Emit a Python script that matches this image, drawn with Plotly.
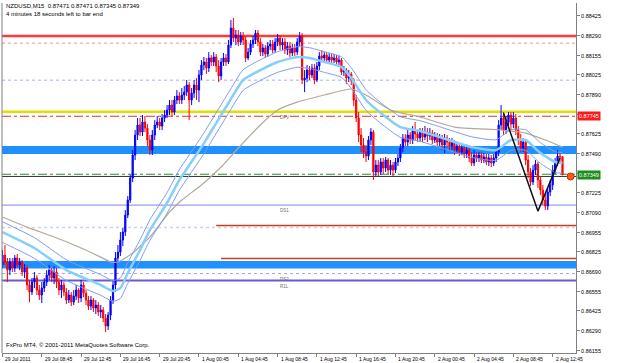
import plotly.graph_objects as go

# ---------------- data (prices in points, 1 point = 0.00001) ----------------
bar_open = [86736,86804,86757,86702,86757,86716,86784,86736,86757,86689,
86716,86601,86553,86621,86648,86567,86533,86580,86621,86668,
86702,86648,86689,86621,86567,86601,86553,86499,86533,86485,
86526,86567,86513,86601,86546,86499,86458,86499,86445,86465,
86418,86431,86377,86323,86397,86499,86601,86784,86824,86906,
86960,87075,87177,87326,87482,87618,87686,87638,87706,87665,
87584,87516,87618,87686,87706,87679,87733,87753,87787,87821,
87774,87855,87882,87855,87889,87909,87957,87855,87902,87957,
87923,88025,88092,88113,88072,88140,88113,88147,88086,88018,
88113,88140,88113,88228,88343,88275,88296,88248,88289,88262,
88140,88180,88235,88262,88309,88248,88180,88208,88167,88221,
88235,88194,88248,88275,88228,88248,88194,88221,88174,88208,
88180,88248,88289,87991,88004,88058,88025,88072,87991,88086,
88153,88140,88160,88126,88147,88126,88140,88113,88126,88045,
88058,88004,88031,87991,87855,87733,87618,87550,87502,87475,
87584,87638,87367,87414,87367,87435,87394,87448,87380,87414,
87380,87435,87462,87530,87597,87570,87618,87584,87652,87625,
87597,87638,87604,87638,87611,87631,87584,87611,87570,87597,
87550,87597,87570,87543,87570,87516,87543,87502,87530,87489,
87516,87462,87428,87482,87462,87482,87448,87469,87435,87462,
87428,87462,87502,87686,87733,87652,87706,87753,87692,87733,
87652,87584,87530,87570,87448,87367,87299,87380,87421,87313,
87245,87177,87136,87231,87279,87380,87435,87475,87471]
bar_high = [86838,86872,86784,86784,86784,86804,86811,86784,86770,86743,
86736,86635,86648,86689,86668,86601,86621,86648,86702,86736,
86716,86729,86716,86648,86635,86621,86580,86567,86553,86567,
86601,86580,86635,86621,86567,86526,86526,86513,86499,86485,
86465,86451,86404,86418,86526,86635,86824,86872,86960,86987,
87109,87204,87347,87516,87652,87733,87733,87753,87747,87692,
87618,87652,87719,87747,87733,87760,87787,87821,87855,87855,
87882,87923,87909,87936,87950,87991,87977,87936,87991,88004,
88058,88126,88147,88140,88180,88160,88180,88167,88126,88140,
88174,88167,88262,88397,88411,88330,88330,88316,88316,88289,
88208,88262,88289,88330,88330,88275,88235,88228,88248,88262,
88262,88275,88303,88296,88275,88275,88248,88248,88235,88235,
88275,88316,88309,88058,88092,88086,88099,88099,88113,88180,
88194,88180,88180,88174,88167,88167,88160,88153,88140,88086,
88072,88058,88045,88004,87889,87774,87665,87597,87550,87611,
87665,87652,87448,87448,87462,87462,87469,87462,87448,87435,
87462,87489,87557,87625,87625,87652,87638,87679,87706,87652,
87665,87665,87679,87665,87665,87652,87638,87631,87625,87618,
87625,87618,87597,87597,87584,87570,87563,87557,87550,87543,
87536,87502,87516,87502,87502,87502,87496,87489,87489,87482,
87489,87530,87719,87821,87774,87747,87774,87774,87774,87760,
87679,87625,87597,87584,87482,87394,87414,87448,87435,87340,
87279,87218,87258,87313,87414,87462,87516,87502,87471]
bar_low = [86716,86736,86621,86668,86689,86689,86716,86702,86662,86648,
86567,86485,86533,86580,86533,86499,86479,86553,86594,86635,
86621,86607,86580,86533,86513,86526,86472,86479,86458,86465,
86499,86479,86485,86519,86465,86431,86431,86418,86404,86391,
86377,86350,86282,86296,86363,86472,86553,86757,86797,86865,
86933,87055,87157,87299,87448,87584,87611,87611,87638,87543,
87482,87482,87584,87665,87652,87652,87706,87733,87753,87747,
87753,87828,87828,87828,87855,87882,87719,87821,87869,87855,
87841,87991,88058,88031,88045,88086,88086,88045,87977,87991,
88086,88086,88099,88208,88248,88228,88221,88228,88228,88113,
88126,88160,88208,88235,88221,88153,88153,88140,88147,88194,
88174,88174,88221,88194,88194,88167,88160,88147,88153,88153,
88160,88221,87963,87909,87977,87991,88004,87963,87977,88058,
88113,88113,88106,88106,88099,88106,88092,88092,88025,88018,
87963,87977,87957,87814,87706,87570,87502,87462,87435,87448,
87550,87313,87340,87340,87347,87353,87367,87353,87347,87340,
87360,87408,87435,87502,87543,87543,87557,87557,87584,87570,
87570,87570,87584,87570,87584,87557,87563,87543,87543,87516,
87496,87536,87516,87516,87482,87496,87475,87482,87462,87462,
87435,87408,87408,87435,87435,87428,87428,87414,87408,87401,
87408,87435,87475,87652,87618,87625,87679,87652,87665,87618,
87550,87502,87502,87414,87326,87272,87279,87347,87258,87211,
87143,87109,87109,87204,87245,87353,87408,87435,87345]
bar_close = [86804,86757,86702,86757,86716,86784,86736,86757,86689,86716,
86601,86553,86621,86648,86567,86533,86580,86621,86668,86702,
86648,86689,86621,86567,86601,86553,86499,86533,86485,86526,
86567,86513,86601,86546,86499,86458,86499,86445,86465,86418,
86431,86377,86323,86397,86499,86601,86784,86824,86906,86960,
87075,87177,87326,87482,87618,87686,87638,87706,87665,87584,
87516,87618,87686,87706,87679,87733,87753,87787,87821,87774,
87855,87882,87855,87889,87909,87957,87855,87902,87957,87923,
88025,88092,88113,88072,88140,88113,88147,88086,88018,88113,
88140,88113,88228,88343,88275,88296,88248,88289,88262,88140,
88180,88235,88262,88309,88248,88180,88208,88167,88221,88235,
88194,88248,88275,88228,88248,88194,88221,88174,88208,88180,
88248,88289,87991,88004,88058,88025,88072,87991,88086,88153,
88140,88160,88126,88147,88126,88140,88113,88126,88045,88058,
88004,88031,87991,87855,87733,87618,87550,87502,87475,87584,
87638,87367,87414,87367,87435,87394,87448,87380,87414,87380,
87435,87462,87530,87597,87570,87618,87584,87652,87625,87597,
87638,87604,87638,87611,87631,87584,87611,87570,87597,87550,
87597,87570,87543,87570,87516,87543,87502,87530,87489,87516,
87462,87428,87482,87462,87482,87448,87469,87435,87462,87428,
87462,87502,87686,87733,87652,87706,87753,87692,87733,87652,
87584,87530,87570,87448,87367,87299,87380,87421,87313,87245,
87177,87136,87231,87279,87380,87435,87475,87471,87349]

# moving averages (bar index, points)
ma_fast_bars = [0,13,26,40,45,48,51,56,60,67,72,81,92,98,105,112,120,125,131,138,142,148,154,162,170,178,191,201,207,213,219,225,228]
ma_fast_vals = [86960,86852,86702,86601,86560,86580,86682,86838,86973,87157,87313,87536,87835,87991,88058,88113,88147,88140,88113,88079,88004,87855,87767,87672,87645,87604,87536,87516,87584,87584,87496,87435,87428]
ma_slow_bars = [0,11,20,32,40,44,47,50,53,60,68,73,81,89,96,105,112,120,131,142,148,158,170,184,203,213,221,228]
ma_slow_vals = [87062,86987,86933,86852,86790,86757,86757,86784,86818,86926,87096,87177,87279,87401,87530,87686,87787,87841,87889,87930,87889,87787,87740,87672,87652,87631,87584,87536]
envelope_pts = 70

zigzag_bars = [204, 218, 227]
zigzag_vals = [87767, 87102, 87462]

# horizontal levels (price)
lvl_red_top = 0.88290
lvl_red_dotted = 0.88241
lvl_lav_dot1 = 0.87990
lvl_yellow = 0.87775
lvl_red_dashdot = 0.87745
band_upper = (0.87489, 0.87543)
lvl_green = 0.87352
lvl_black = 0.87337
lvl_ds1 = 0.87143
lvl_partial1 = 0.87004
lvl_partial1_start = 87
lvl_lav_dot2 = 0.86991
lvl_partial2 = 0.86780
lvl_partial2_start = 89
band_lower = (0.86713, 0.86763)
lvl_ds2 = 0.86679
lvl_purple = 0.86631
last_price = 0.87349
last_marker_bar = 231.3

tick_prices = [0.88425,0.88290,0.88155,0.88025,0.87890,0.87760,0.87625,0.87490,0.87355,
               0.87225,0.87090,0.86955,0.86825,0.86690,0.86555,0.86425,0.86290,0.86155]
hidden_tick_prices = [0.87760, 0.87355]   # covered by the price boxes in the reference
time_label_bars = [0,16,32,48,64,80,96,112,128,144,160,176,192,208,224]
time_labels = ["29 Jul 2011","29 Jul 08:45","29 Jul 12:45","29 Jul 16:45","29 Jul 20:45",
               "1 Aug 00:45","1 Aug 04:45","1 Aug 08:45","1 Aug 12:45","1 Aug 16:45",
               "1 Aug 20:45","2 Aug 00:45","2 Aug 04:45","2 Aug 08:45","2 Aug 12:45"]

# ---------------------------------------------------------------------------
P = lambda v: [x / 100000 for x in v]
FONT = "Arial, Liberation Sans, sans-serif"

fig = go.Figure()

def hline(y, color, width, dash="solid", x0=0, xref="paper"):
    fig.add_shape(type="line", xref=xref, yref="y", x0=x0, x1=1 if xref == "paper" else 233.5,
                  y0=y, y1=y, line=dict(color=color, width=width, dash=dash), layer="below")

for b in (band_upper, band_lower):
    fig.add_shape(type="rect", xref="paper", yref="y", x0=0, x1=1, y0=b[0], y1=b[1],
                  fillcolor="#1e90ff", line=dict(width=0), layer="below")

hline(lvl_red_top, "#ff3a3a", 2.5)
hline(lvl_red_dotted, "#f09090", 1, "dot")
hline(lvl_lav_dot1, "#c8c8f5", 1.5, "dot")
hline(lvl_yellow, "#e0e000", 2.5)
hline(lvl_red_dashdot, "#e03030", 1, "dashdot")
hline(lvl_green, "#2e8b2e", 1, "dashdot")
hline(lvl_black, "#303030", 1)
hline(lvl_ds1, "#9c9cec", 1.2)
hline(lvl_lav_dot2, "#d0d0f5", 1.5, "dot")
hline(lvl_partial1, "#c8401c", 1.5, "solid", lvl_partial1_start, "x")
hline(lvl_partial2, "#c8401c", 1.5, "solid", lvl_partial2_start, "x")
hline(lvl_ds2, "#a8a8f0", 1.2, "dot")
hline(lvl_purple, "#6a5acd", 2)

# moving averages
SM = 0.5
fig.add_trace(go.Scatter(x=ma_slow_bars, y=P(ma_slow_vals), mode="lines",
                         line=dict(color="#b4a898", width=1.2, shape="spline", smoothing=SM), hoverinfo="skip"))
fig.add_trace(go.Scatter(x=ma_fast_bars, y=P([v + envelope_pts for v in ma_fast_vals]), mode="lines",
                         line=dict(color="#7f9cf0", width=1, shape="spline", smoothing=SM), hoverinfo="skip"))
fig.add_trace(go.Scatter(x=ma_fast_bars, y=P([v - envelope_pts for v in ma_fast_vals]), mode="lines",
                         line=dict(color="#7f9cf0", width=1, shape="spline", smoothing=SM), hoverinfo="skip"))
fig.add_trace(go.Scatter(x=ma_fast_bars, y=P(ma_fast_vals), mode="lines",
                         line=dict(color="#87cefa", width=2.5, shape="spline", smoothing=SM), hoverinfo="skip"))

# candles
fig.add_trace(go.Candlestick(
    x=list(range(len(bar_close))), open=P(bar_open), high=P(bar_high), low=P(bar_low), close=P(bar_close),
    increasing=dict(line=dict(color="#0000ff", width=1), fillcolor="#0000ff"),
    decreasing=dict(line=dict(color="#ff0000", width=1), fillcolor="#ff0000"),
    whiskerwidth=0, hoverinfo="skip"))

# zigzag
fig.add_trace(go.Scatter(x=zigzag_bars, y=P(zigzag_vals), mode="lines",
                         line=dict(color="#101010", width=1.5), hoverinfo="skip"))

# last price marker
fig.add_trace(go.Scatter(x=[last_marker_bar], y=[lvl_black], mode="markers",
                         marker=dict(color="#ff5a1e", size=7, line=dict(color="#c03000", width=1)),
                         hoverinfo="skip"))

ann = []
ann.append(dict(xref="paper", yref="paper", x=0, y=1, xanchor="left", yanchor="top", xshift=2, yshift=2,
                text="NZDUSD,M15  0.87471 0.87471 0.87345 0.87349", showarrow=False,
                font=dict(family=FONT, size=6, color="#000000")))
ann.append(dict(xref="paper", yref="paper", x=0, y=1, xanchor="left", yanchor="top", xshift=2, yshift=-6,
                text="4 minutes 18 seconds left to bar end", showarrow=False,
                font=dict(family=FONT, size=6, color="#000000")))
ann.append(dict(xref="paper", yref="paper", x=0, y=0, xanchor="left", yanchor="bottom", xshift=2, yshift=3,
                text="FxPro MT4, © 2001-2011 MetaQuotes Software Corp.", showarrow=False,
                font=dict(family=FONT, size=6, color="#000000")))
for txt, yv in (("DPV", lvl_yellow), ("DS1", lvl_ds1), ("DS2", lvl_ds2), ("R1L", lvl_purple)):
    ann.append(dict(xref="x", yref="y", x=112, y=yv, xanchor="left", yanchor="top", yshift=-1,
                    text=txt, showarrow=False, font=dict(family=FONT, size=4.5, color="#707070")))
ann.append(dict(xref="paper", yref="y", x=1, y=lvl_red_dashdot, xanchor="left", yanchor="middle", xshift=1,
                text="0.87745", showarrow=False, bgcolor="#ff1a1a", borderpad=1,
                font=dict(family=FONT, size=5.5, color="#ffffff")))
ann.append(dict(xref="paper", yref="y", x=1, y=last_price, xanchor="left", yanchor="middle", xshift=1,
                text="0.87349", showarrow=False, bgcolor="#1c8c1c", borderpad=1,
                font=dict(family=FONT, size=5.5, color="#ffffff")))
for b, t in zip(time_label_bars, time_labels):
    ann.append(dict(xref="x", yref="paper", x=b, y=0, xanchor="left", yanchor="top", yshift=-1, xshift=1,
                    text=t, showarrow=False, font=dict(family=FONT, size=5, color="#000000")))

fig.update_layout(
    width=625, height=363, autosize=False,
    margin=dict(l=2, r=49, t=3, b=10),
    paper_bgcolor="white", plot_bgcolor="white",
    showlegend=False, hovermode=False,
    annotations=ann,
    xaxis=dict(range=[-0.2, 233.5], showgrid=False, zeroline=False, rangeslider=dict(visible=False),
               tickmode="array", tickvals=time_label_bars, showticklabels=False,
               ticks="outside", ticklen=3, tickcolor="#808080",
               showline=True, linecolor="#808080", linewidth=1, mirror=False),
    yaxis=dict(range=[0.86140, 0.88513], side="right", showgrid=False, zeroline=False,
               tickmode="array", tickvals=tick_prices,
               ticktext=["" if v in hidden_tick_prices else f"{v:.5f}" for v in tick_prices],
               ticks="outside", ticklen=3, tickcolor="#808080",
               tickfont=dict(family=FONT, size=5.5, color="#000000"),
               showline=True, linecolor="#808080", linewidth=1),
)
fig.add_shape(type="line", xref="paper", yref="paper", x0=0, x1=0, y0=0, y1=1,
              line=dict(color="#808080", width=1))

fig.write_html("out.html")
